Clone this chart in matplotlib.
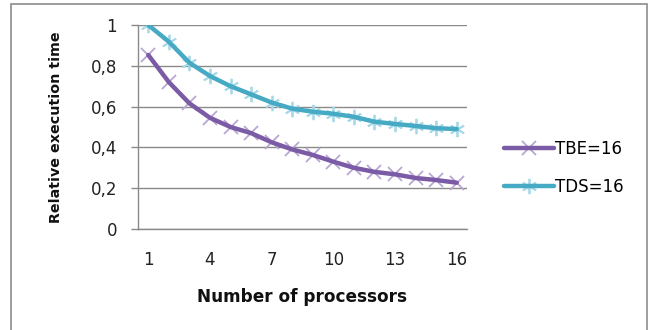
import matplotlib
matplotlib.use("Agg")
import matplotlib.pyplot as plt
from matplotlib.patches import Rectangle

plt.rcParams['font.family'] = ['DejaVu Sans']

processors = list(range(1, 17))
tbe = [0.853, 0.72, 0.616, 0.545, 0.50, 0.47, 0.425, 0.39, 0.363, 0.33, 0.30, 0.28, 0.268, 0.25, 0.24, 0.227]
tds = [1.0, 0.918, 0.815, 0.75, 0.70, 0.66, 0.62, 0.59, 0.575, 0.565, 0.55, 0.526, 0.515, 0.505, 0.494, 0.49]
xtick_vals = [1, 4, 7, 10, 13, 16]
ytick_vals = [0, 0.2, 0.4, 0.6, 0.8, 1.0]
ytick_labels = ["0", "0,2", "0,4", "0,6", "0,8", "1"]

W, H = 651, 330
fig = plt.figure(figsize=(W / 100, H / 100), dpi=100)
fig.patches.append(Rectangle((11 / W, -0.1), (647 - 11) / W, 1 - 4 / H + 0.1,
                             transform=fig.transFigure, fill=False,
                             edgecolor='#8c8c8c', linewidth=1.2))

ax = fig.add_axes([138 / W, 1 - 229 / H, (467 - 138) / W, (229 - 25) / H])

purple = '#7b5aa6'
purple_light = '#b9a6d2'
teal = '#46aac4'
teal_light = '#a6d9e8'

m1, = ax.plot(processors, tbe, linestyle='none', marker='x', markersize=10,
              markeredgecolor=purple_light, markeredgewidth=1.3, zorder=3)
l1, = ax.plot(processors, tbe, color=purple, linewidth=3.2, zorder=4,
              solid_capstyle='round', solid_joinstyle='round')
m2, = ax.plot(processors, tds, linestyle='none', marker=(6, 2, 0), markersize=11,
              markeredgecolor=teal_light, markeredgewidth=1.3, zorder=3)
l2, = ax.plot(processors, tds, color=teal, linewidth=3.2, zorder=4,
              solid_capstyle='round', solid_joinstyle='round')

ax.set_xlim(0.5, 16.5)
ax.set_ylim(0, 1)
ax.set_xticks(xtick_vals)
ax.set_xticklabels([str(v) for v in xtick_vals])
ax.set_yticks(ytick_vals)
ax.set_yticklabels(ytick_labels)
ax.grid(axis='y', color='#8a8a8a', linewidth=1.0)
ax.set_axisbelow(True)
for s in ['top', 'right']:
    ax.spines[s].set_visible(False)
for s in ['left', 'bottom']:
    ax.spines[s].set_color('#8a8a8a')
    ax.spines[s].set_linewidth(1.0)
ax.tick_params(axis='x', length=0, pad=16, labelsize=12, labelcolor='#222222')
ax.tick_params(axis='y', length=5, width=1.0, color='#8a8a8a', pad=10,
               labelsize=12, labelcolor='#222222')

fig.text(302 / W, 1 - 297 / H, "Number of processors", ha='center', va='center',
         fontsize=12.2, fontweight='bold', color='#111111')
fig.text(56 / W, 1 - 127 / H, "Relative execution time", ha='center', va='center',
         rotation=90, fontsize=10.3, fontweight='bold', color='#111111')

leg = fig.legend([(m1, l1), (m2, l2)], ["TBE=16", "TDS=16"],
                 loc='center left', bbox_to_anchor=(497 / W, 1 - 168 / H),
                 frameon=False, fontsize=12, handlelength=3.0,
                 handletextpad=0.1, labelspacing=1.2, borderaxespad=0)

fig.savefig("out.png", dpi=100)
